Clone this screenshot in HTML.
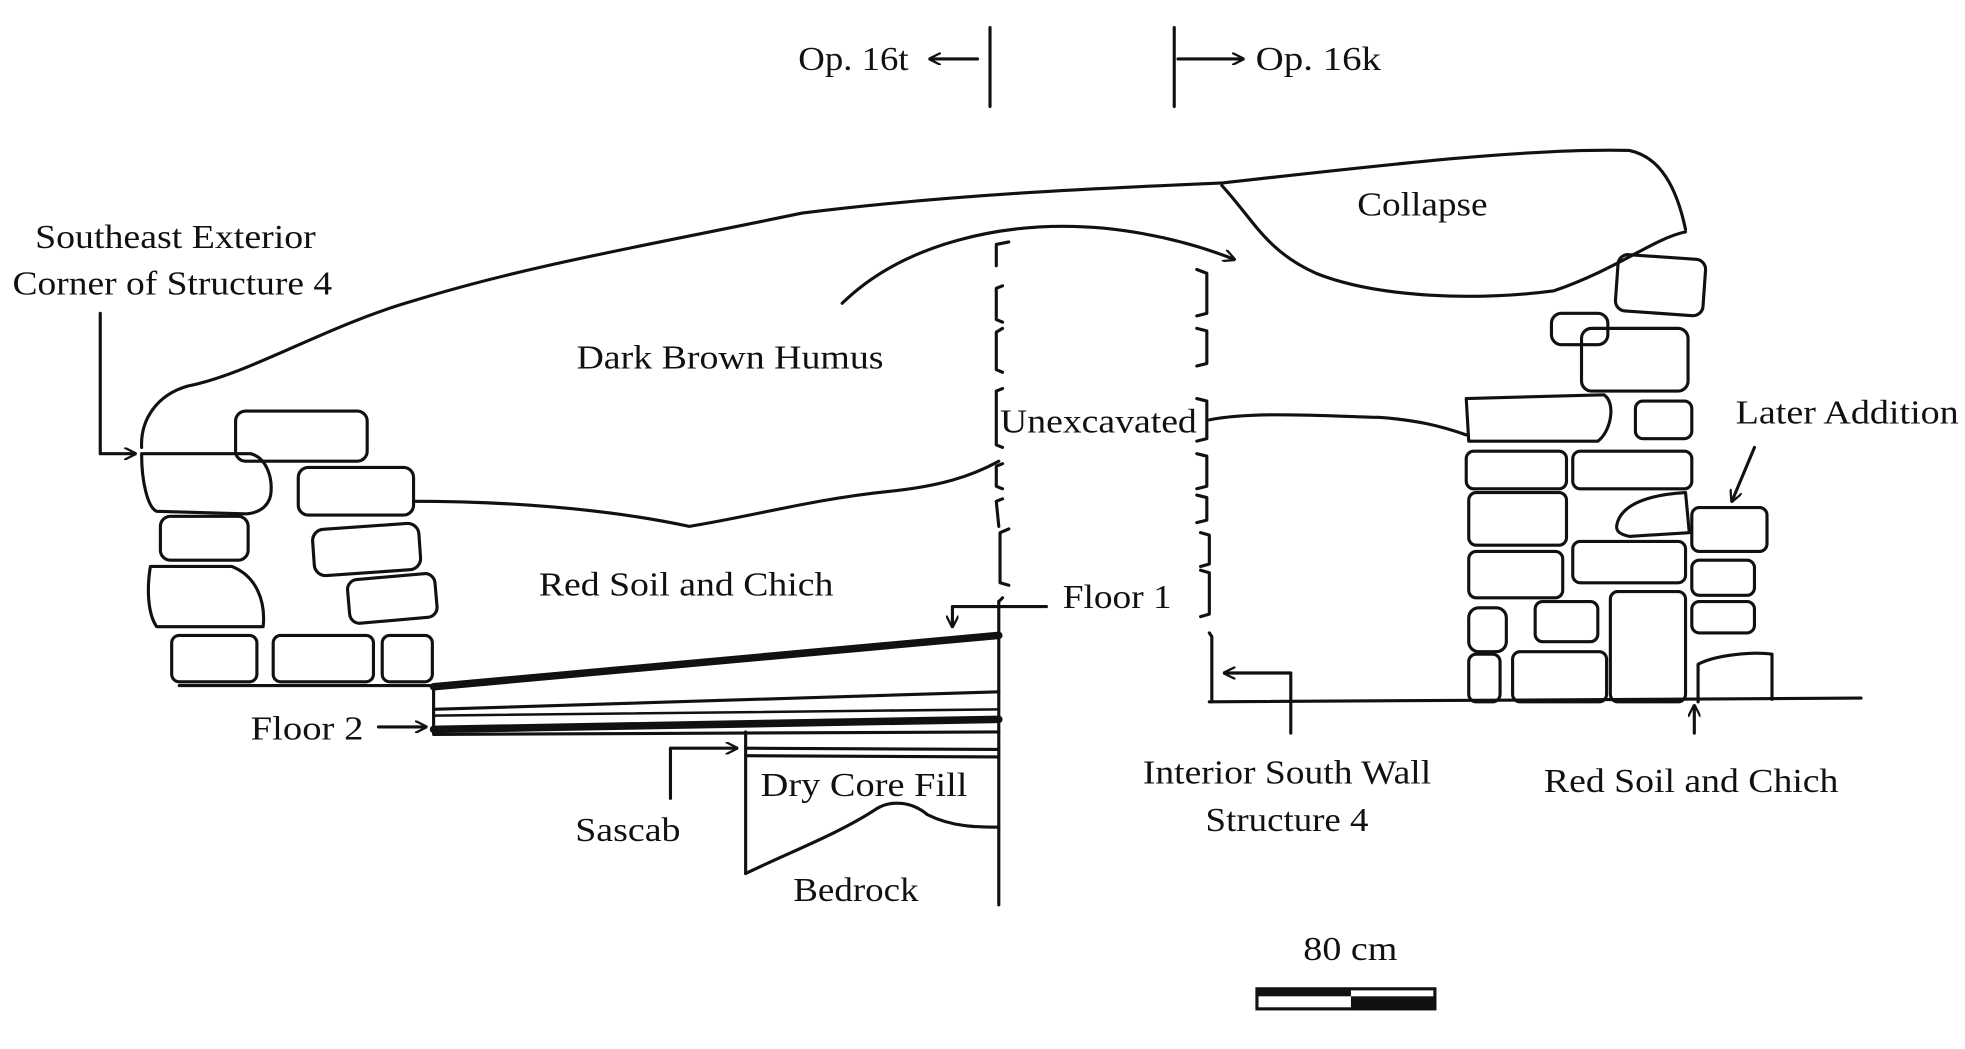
<!DOCTYPE html>
<html><head><meta charset="utf-8"><style>
html,body{margin:0;padding:0;background:#fff;}
svg{display:block;}
text{font-family:"Liberation Serif",serif;font-size:27px;fill:#111;}
</style></head><body>
<svg width="1965" height="1049" viewBox="0 0 1568 837" xmlns="http://www.w3.org/2000/svg">
<defs><marker id="a" markerWidth="10" markerHeight="10" refX="9" refY="5" orient="auto" markerUnits="userSpaceOnUse"><path d="M0,0 L10,5 L0,10" fill="none" stroke="#111" stroke-width="1.8"/></marker></defs>
<g fill="none" stroke="#111" stroke-width="2.5" stroke-linecap="round" stroke-linejoin="round">
<!-- top section markers -->
<line x1="790" y1="22" x2="790" y2="85"/><line x1="937" y1="22" x2="937" y2="85"/>
<line x1="780" y1="47" x2="742" y2="47" marker-end="url(#a)"/>
<line x1="940" y1="47" x2="992" y2="47" marker-end="url(#a)"/>
<!-- outer outline -->
<path d="M113,357 C112,335 125,315 150,308 C200,298 260,260 330,240 C420,212 520,195 640,170 C760,155 880,150 975,146 C1100,132 1220,118 1300,120 C1325,125 1338,150 1345,183"/>
<!-- collapse -->
<path d="M975,148 C1000,175 1010,200 1050,218 C1100,238 1180,240 1240,232 C1290,215 1320,190 1345,185"/>
<!-- left wall stones -->
<rect x="188" y="328" width="105" height="40" rx="8"/>
<path d="M113,362 L200,362 C212,365 218,380 216,395 C214,405 205,410 195,410 L125,408 C118,405 113,385 113,362Z"/>
<rect x="238" y="373" width="92" height="38" rx="8"/>
<rect x="128" y="412" width="70" height="35" rx="8"/>
<rect x="250" y="420" width="85" height="37" rx="9" transform="rotate(-4 292 438)"/>
<path d="M120,452 L185,452 C205,460 212,480 210,500 L125,500 C118,490 117,470 120,452Z"/>
<rect x="278" y="460" width="70" height="35" rx="8" transform="rotate(-5 313 477)"/>
<rect x="137" y="507" width="68" height="37" rx="6"/>
<rect x="218" y="507" width="80" height="37" rx="6"/>
<rect x="305" y="507" width="40" height="37" rx="6"/>
<line x1="143" y1="547" x2="346" y2="547"/>
<!-- humus/red boundary -->
<path d="M330,400 C400,400 480,405 550,420 C600,412 650,398 710,392 C750,388 775,380 797,368"/>
<!-- unexcavated brackets -->
<path d="M805,193 L795,195 L795,212 M800,228 L795,230 L795,255 L800,257 M800,262 L795,265 L795,295 L800,297 M800,310 L795,312 L795,355 L800,357 M800,370 L795,372 L795,388 L800,390 M800,398 L795,400 L797,420 M805,422 L798,425 L798,465 L805,467 M800,477 L797,480"/>
<path d="M955,215 L963,218 L963,250 L955,252 M955,262 L963,264 L963,290 L955,292 M955,318 L963,320 L963,350 L955,352 M955,362 L963,364 L963,388 L955,390 M955,395 L963,397 L963,415 L955,417 M958,425 L965,427 L965,450 L958,452 M958,455 L965,457 L965,490 L958,492 M965,505 L967,508 L967,560"/>
<path d="M965,335 C1000,328 1060,332 1100,333 C1130,335 1150,340 1170,347"/>
<line x1="965" y1="560" x2="1485" y2="557"/>
<!-- curved arrow -->
<path d="M672,242 C720,195 800,175 880,182 C920,186 955,195 985,207" marker-end="url(#a)"/>
<!-- center line -->
<line x1="797" y1="480" x2="797" y2="722"/>
<!-- floors -->
<line x1="346" y1="547" x2="346" y2="585"/>
<path d="M346,548 L797,507" stroke-width="6"/>
<line x1="346" y1="566" x2="797" y2="552"/>
<path d="M346,571 L797,566" stroke-width="2"/>
<path d="M346,582 L797,574" stroke-width="6"/>
<line x1="346" y1="586" x2="797" y2="584"/>
<line x1="595" y1="584" x2="595" y2="697"/>
<line x1="595" y1="597" x2="797" y2="598"/>
<line x1="595" y1="603" x2="797" y2="604"/>
<path d="M595,697 C630,680 670,665 700,645 C712,638 728,640 740,650 C760,660 780,660 797,660"/>
<!-- label arrows -->
<polyline points="835,484 760,484 760,500" marker-end="url(#a)"/>
<line x1="302" y1="580" x2="340" y2="580" marker-end="url(#a)"/>
<polyline points="535,637 535,597 588,597" marker-end="url(#a)"/>
<polyline points="1030,585 1030,537 977,537" marker-end="url(#a)"/>
<polyline points="80,250 80,362 108,362" marker-end="url(#a)"/>
<line x1="1400" y1="357" x2="1382" y2="400" marker-end="url(#a)"/>
<line x1="1352" y1="585" x2="1352" y2="563" marker-end="url(#a)"/>
<!-- right wall stones -->
<rect x="1290" y="205" width="70" height="45" rx="8" transform="rotate(4 1325 228)"/>
<rect x="1238" y="250" width="45" height="25" rx="8"/>
<rect x="1262" y="262" width="85" height="50" rx="8"/>
<path d="M1170,318 L1280,315 C1290,322 1285,345 1275,352 L1172,352 Z"/>
<rect x="1305" y="320" width="45" height="30" rx="6"/>
<rect x="1170" y="360" width="80" height="30" rx="6"/>
<rect x="1255" y="360" width="95" height="30" rx="6"/>
<rect x="1172" y="393" width="78" height="42" rx="6"/>
<path d="M1290,420 C1292,405 1310,395 1345,393 L1348,425 L1300,428 C1292,426 1290,424 1290,420Z"/>
<rect x="1350" y="405" width="60" height="35" rx="6"/>
<rect x="1172" y="440" width="75" height="37" rx="6"/>
<rect x="1255" y="432" width="90" height="33" rx="6"/>
<rect x="1350" y="447" width="50" height="28" rx="6"/>
<rect x="1350" y="480" width="50" height="25" rx="6"/>
<rect x="1172" y="485" width="30" height="35" rx="8"/>
<rect x="1225" y="480" width="50" height="32" rx="6"/>
<rect x="1285" y="472" width="60" height="88" rx="6"/>
<rect x="1172" y="522" width="25" height="38" rx="6"/>
<rect x="1207" y="520" width="75" height="40" rx="6"/>
<path d="M1355,560 L1355,530 C1370,522 1400,520 1414,522 L1414,558"/>
</g>
<!-- scale bar -->
<rect x="1003" y="789" width="142" height="16" fill="#fff" stroke="#111" stroke-width="2.5"/>
<rect x="1003" y="789" width="75" height="6" fill="#111"/>
<rect x="1078" y="795" width="67" height="10" fill="#111"/>
<!-- labels -->
<text x="637" y="56" textLength="88" lengthAdjust="spacingAndGlyphs">Op. 16t</text>
<text x="1002" y="56" textLength="100" lengthAdjust="spacingAndGlyphs">Op. 16k</text>
<text x="1083" y="172" textLength="104" lengthAdjust="spacingAndGlyphs">Collapse</text>
<text x="28" y="198" textLength="224" lengthAdjust="spacingAndGlyphs">Southeast Exterior</text>
<text x="10" y="235" textLength="255" lengthAdjust="spacingAndGlyphs">Corner of Structure 4</text>
<text x="460" y="294" textLength="245" lengthAdjust="spacingAndGlyphs">Dark Brown Humus</text>
<text x="798" y="345" textLength="157" lengthAdjust="spacingAndGlyphs">Unexcavated</text>
<text x="1385" y="338" textLength="178" lengthAdjust="spacingAndGlyphs">Later Addition</text>
<text x="430" y="475" textLength="235" lengthAdjust="spacingAndGlyphs">Red Soil and Chich</text>
<text x="848" y="485" textLength="87" lengthAdjust="spacingAndGlyphs">Floor 1</text>
<text x="200" y="590" textLength="90" lengthAdjust="spacingAndGlyphs">Floor 2</text>
<text x="912" y="625" textLength="230" lengthAdjust="spacingAndGlyphs">Interior South Wall</text>
<text x="962" y="663" textLength="130" lengthAdjust="spacingAndGlyphs">Structure 4</text>
<text x="1232" y="632" textLength="235" lengthAdjust="spacingAndGlyphs">Red Soil and Chich</text>
<text x="607" y="635" textLength="165" lengthAdjust="spacingAndGlyphs">Dry Core Fill</text>
<text x="459" y="671" textLength="84" lengthAdjust="spacingAndGlyphs">Sascab</text>
<text x="633" y="719" textLength="100" lengthAdjust="spacingAndGlyphs">Bedrock</text>
<text x="1040" y="766" textLength="75" lengthAdjust="spacingAndGlyphs">80 cm</text>
</svg>
</body></html>
